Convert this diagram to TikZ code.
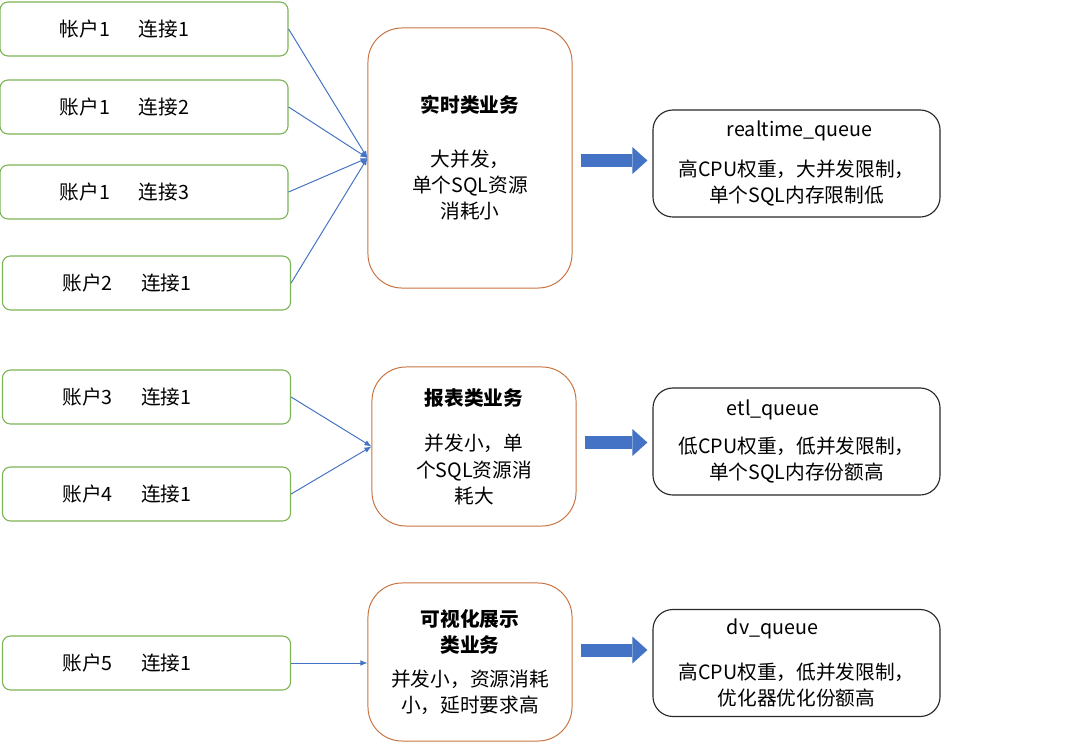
\documentclass[tikz,border=0pt]{standalone}
\usepackage{fontspec}
\setmainfont{Noto Sans CJK SC}
\usepackage{xcolor}
\usepackage{tikz}
\usetikzlibrary{arrows.meta, positioning, calc}

\definecolor{cgreen}{RGB}{125,180,85}
\definecolor{corange}{RGB}{200,115,65}
\definecolor{cblue}{RGB}{68,114,196}
\definecolor{cgray}{RGB}{40,40,40}

\newcommand{\qname}[1]{\makebox[6.2cm][l]{\hspace*{1.36cm}#1}}
\newcommand{\gap}{\hspace{1.45em}}

\begin{document}
\begin{tikzpicture}[
    x=0.025cm, y=-0.025cm,
    every node/.style={font=\fontsize{14pt}{18.5pt}\selectfont},
    conn/.style={draw=cgreen, line width=0.8pt, rounded corners=0.2cm, minimum width=7.2cm, minimum height=1.35cm, text width=4.2cm, inner xsep=1.5cm, align=left},
    biz/.style={draw=corange, line width=0.7pt, rounded corners=0.85cm, minimum width=5.1cm, align=center},
    queue/.style={draw=cgray, line width=0.8pt, rounded corners=0.5cm, minimum width=7.175cm, minimum height=2.675cm, text width=6.2cm, inner xsep=0.4875cm, align=center},
    link/.style={draw=cblue, line width=0.7pt, -{Latex[length=5pt,width=4pt]}},
    bigarrow/.style={draw=cblue, line width=0.325cm, -{Triangle[length=0.375cm,width=0.675cm,line width=0pt]}, shorten <=0.2cm, shorten >=0.125cm}
]
    \useasboundingbox (0,0) rectangle (1080,743);

    % accounts and connections
    \node[conn] (acc1) at (144,29)    {帐户1\gap 连接1};
    \node[conn] (acc2) at (144,107)   {账户1\gap 连接2};
    \node[conn] (acc3) at (144,192)   {账户1\gap 连接3};
    \node[conn] (acc4) at (146.5,283) {账户2\gap 连接1};
    \node[conn] (acc5) at (146.5,397) {账户3\gap 连接1};
    \node[conn] (acc6) at (146.5,494) {账户4\gap 连接1};
    \node[conn] (acc7) at (146.5,663) {账户5\gap 连接1};

    % business types
    \node[biz, minimum height=6.5cm]   (rt)  at (470,158)   {\textbf{实时类业务}\\[20pt]大并发，\\单个SQL资源\\消耗小};
    \node[biz, minimum height=3.975cm] (etl) at (474,446.5) {\textbf{报表类业务}\\[14pt]并发小，单\\个SQL资源消\\耗大};
    \node[biz, minimum height=3.95cm]  (dv)  at (470,662)   {\textbf{可视化展示}\\\textbf{类业务}\\[6pt]并发小，资源消耗\\小，延时要求高};

    % resource queues
    \node[queue] (rtq)  at (796.5,163.5) {\qname{realtime\_queue}\\[10pt]高CPU权重，大并发限制，\\单个SQL内存限制低};
    \node[queue] (etlq) at (796.5,441.5) {\qname{etl\_queue}\\[9pt]低CPU权重，低并发限制，\\单个SQL内存份额高};
    \node[queue] (dvq)  at (796.5,663)   {\qname{dv\_queue}\\[13pt]高CPU权重，低并发限制，\\优化器优化份额高};

    \draw[link] (acc1.east) -- (rt.west);
    \draw[link] (acc2.east) -- (rt.west);
    \draw[link] (acc3.east) -- (rt.west);
    \draw[link] (acc4.east) -- (rt.west);
    \draw[link] (acc5.east) -- (etl.west);
    \draw[link] (acc6.east) -- (etl.west);
    \draw[link] (acc7.east) -- (acc7.east -| dv.west);

    \draw[bigarrow] (rt.east |- 0,160.5)  -- (rtq.west |- 0,160.5);
    \draw[bigarrow] (etl.east |- 0,442.5) -- (etlq.west |- 0,442.5);
    \draw[bigarrow] (dv.east |- 0,650)    -- (dvq.west |- 0,650);
\end{tikzpicture}
\end{document}
